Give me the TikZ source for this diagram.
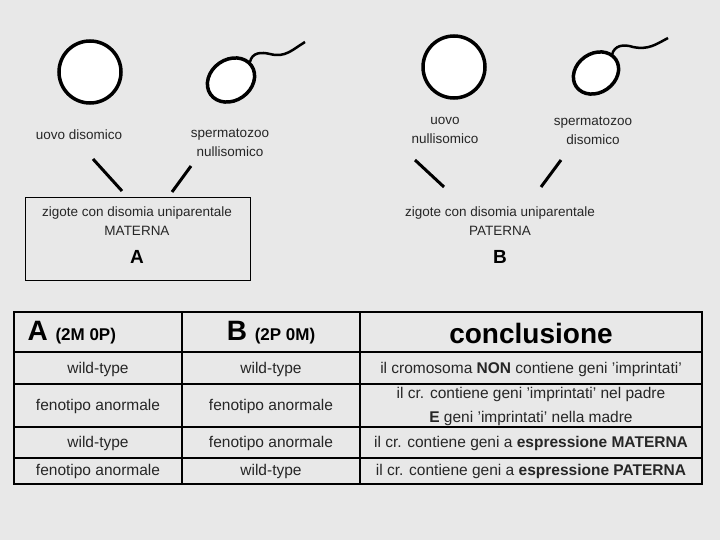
\documentclass[tikz,border=0pt]{standalone}
\usepackage{fontspec}
\setmainfont{Liberation Sans}
\usetikzlibrary{shapes.geometric}
\begin{document}
\begin{tikzpicture}[x=1pt,y=-1pt,
  lbl/.style={font=\fontsize{13.5}{19}\selectfont,align=center,text=black!85},
  cell/.style={font=\fontsize{15.5}{24}\selectfont,align=center,text=black!85},
  cellshape/.style={draw,line width=3.5pt,fill=white},
  link/.style={line width=3pt}]
\fill[gray!18] (0,0) rectangle (720,540);
\useasboundingbox (0,0) rectangle (720,540);
% left group
\node[cellshape,circle,minimum size=62pt,inner sep=0] (eggA) at (90,72) {};
\node[cellshape,ellipse,minimum width=50pt,minimum height=41pt,inner sep=0,rotate=35] (spA) at (231,80) {};
\draw[line width=2.5pt] (250,62) .. controls (252,52) and (262,52) .. (270,54) .. controls (285,58) and (292,50) .. (305,42);
\node[lbl] (labEggA) at (79,135) {uovo disomico};
\node[lbl] (labSpA) at (230,143) {spermatozoo\\nullisomico};
\coordinate (a1) at (93,159); \coordinate (a2) at (122,191);
\coordinate (a3) at (191,166); \coordinate (a4) at (172,192);
\draw[link] (a1) -- (a2);
\draw[link] (a3) -- (a4);
\draw[thick] (25,197) rectangle (250,280);
\node[lbl] (zA) at (137,221) {zigote con disomia uniparentale\\MATERNA};
\node[font=\bfseries\fontsize{19}{19}\selectfont] (A) at (137,257) {A};
% right group
\node[cellshape,circle,minimum size=62pt,inner sep=0] (eggB) at (454,67) {};
\node[cellshape,ellipse,minimum width=48pt,minimum height=39pt,inner sep=0,rotate=35] (spB) at (596,73) {};
\draw[line width=2.5pt] (612,55) .. controls (614,45) and (624,44) .. (633,47) .. controls (648,50) and (655,45) .. (668,38);
\node[lbl] (labEggB) at (445,130) {uovo\\nullisomico};
\node[lbl] (labSpB) at (593,131) {spermatozoo\\disomico};
\coordinate (b1) at (415,160); \coordinate (b2) at (444,187);
\coordinate (b3) at (561,160); \coordinate (b4) at (541,187);
\draw[link] (b1) -- (b2);
\draw[link] (b3) -- (b4);
\node[lbl] (zB) at (500,221) {zigote con disomia uniparentale\\PATERNA};
\node[font=\bfseries\fontsize{19}{19}\selectfont] (B) at (500,257) {B};
% table
\draw[line width=2.5pt] (14,312) rectangle (702,484);
\draw[line width=1.2pt] (182,312) -- (182,484) (360,312) -- (360,484);
\draw[line width=1.2pt] (14,352) -- (702,352) (14,384) -- (702,384) (14,427) -- (702,427) (14,458) -- (702,458);
\node[font=\bfseries,anchor=west] (hA) at (24,333) {\fontsize{28}{28}\selectfont A \fontsize{17}{17}\selectfont(2M 0P)};
\node[font=\bfseries] (hB) at (271,333) {\fontsize{28}{28}\selectfont B \fontsize{17}{17}\selectfont(2P 0M)};
\node[font=\bfseries\fontsize{28}{28}\selectfont] (hC) at (531,333) {conclusione};
\node[cell] at (98,369) {wild-type};
\node[cell] at (271,369) {wild-type};
\node[cell] at (531,369) {il cromosoma \textbf{NON} contiene geni 'imprintati'};
\node[cell] at (98,406) {fenotipo anormale};
\node[cell] at (271,406) {fenotipo anormale};
\node[cell] at (531,406) {il cr. contiene geni 'imprintati' nel padre\\\textbf{E} geni 'imprintati' nella madre};
\node[cell] at (98,443) {wild-type};
\node[cell] at (271,443) {fenotipo anormale};
\node[cell] at (531,443) {il cr. contiene geni a \textbf{espressione MATERNA}};
\node[cell] at (98,471) {fenotipo anormale};
\node[cell] at (271,471) {wild-type};
\node[cell] at (531,471) {il cr. contiene geni a \textbf{espressione PATERNA}};
\end{tikzpicture}
\end{document}
